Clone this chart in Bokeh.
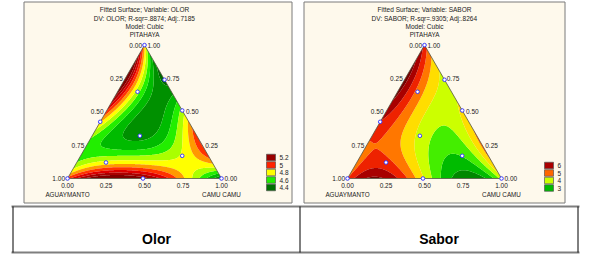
import numpy as np
from bokeh.plotting import figure
from bokeh.models import Range1d
from bokeh.core.properties import value
from bokeh.embed import file_html
from bokeh.resources import INLINE

# ---------------- data ----------------
# mixture design points (fractions): aguaymanto, camu camu, pitahaya
design_agu = [0.0, 0.0, 0.0, 0.575, 0.22, 0.37, 0.69, 0.17, 0.51, 1.0, 0.0]
design_camu = [0.0, 0.26, 0.49, 0.0, 0.13, 0.31, 0.19, 0.66, 0.49, 0.0, 1.0]
design_pit = [1.0, 0.74, 0.51, 0.425, 0.65, 0.32, 0.12, 0.17, 0.0, 0.0, 0.0]

read_agu6 = [0, 1, 0, 2, 1, 0, 3, 2, 1, 0, 4, 3, 2, 1, 0, 5, 4, 3, 2, 1, 0, 6, 5, 4, 3, 2, 1, 0]
read_camu6 = [0, 0, 1, 0, 1, 2, 0, 1, 2, 3, 0, 1, 2, 3, 4, 0, 1, 2, 3, 4, 5, 0, 1, 2, 3, 4, 5, 6]

olor_read = [4.9,
             5.35, 4.5,
             5.45, 4.6, 4.35,
             5.05, 4.6, 4.48, 4.7,
             4.75, 4.55, 4.5, 4.65, 5.15,
             4.65, 4.7, 4.6, 4.7, 4.85, 5.0,
             5.05, 5.4, 5.45, 5.4, 5.1, 4.7, 4.4]
sabor_read = [5.7,
              6.6, 4.8,
              6.8, 5.4, 4.3,
              6.3, 4.7, 4.3, 4.4,
              5.4, 5.0, 4.3, 3.8, 5.0,
              5.4, 5.9, 4.7, 3.7, 3.3, 5.6,
              5.6, 6.2, 6.1, 4.6, 2.9, 2.8, 4.0]

olor_levels = [4.3, 4.4, 4.5, 4.6, 4.7, 4.8, 4.9, 5.0, 5.1, 5.2, 5.3]
olor_fill = ["#004d00", "#006a00", "#009000", "#00bb00", "#22ee00", "#aaff00",
             "#ffff00", "#ff9900", "#ff3300", "#dd0000", "#aa0000", "#800000"]
sabor_levels = [2.5, 3.0, 3.5, 4.0, 4.5, 5.0, 5.5, 6.0, 6.5]
sabor_fill = ["#006000", "#008800", "#00bb00", "#44ee00", "#ccff00", "#ffdd00",
              "#ff7700", "#ee2200", "#a80000", "#780000"]

olor_legend = ["5.2", "5", "4.8", "4.6", "4.4"]
olor_legend_colors = ["#990000", "#ff2200", "#ffff00", "#22ee00", "#007000"]
sabor_legend = ["6", "5", "4", "3"]
sabor_legend_colors = ["#aa0000", "#ff6600", "#ccff00", "#00bb00"]

tick_labels = ["0.00", "0.25", "0.50", "0.75", "1.00"]
tick_fracs = [0.0, 0.25, 0.5, 0.75, 1.0]

olor_titles = ["Fitted Surface; Variable: OLOR", "DV: OLOR; R-sqr=.8874; Adj:.7185", "Model: Cubic"]
sabor_titles = ["Fitted Surface; Variable: SABOR", "DV: SABOR; R-sqr=.9305; Adj:.8264", "Model: Cubic"]
table_labels = ["Olor", "Sabor"]

# ---------------- helpers ----------------
FONT = value("Liberation Sans")
CREAM = "#fef9ec"
W, H = 154.0, 133.4


def design_matrix(a, b, c):
    a, b, c = np.asarray(a, float), np.asarray(b, float), np.asarray(c, float)
    return np.stack([a, b, c, a * b, a * c, b * c,
                     a * b * (a - b), a * c * (a - c), b * c * (b - c), a * b * c], axis=-1)


def fit_cubic(vals):
    a = np.array(read_agu6) / 6.0
    b = np.array(read_camu6) / 6.0
    c = 1.0 - a - b
    coef, *_ = np.linalg.lstsq(design_matrix(a, b, c), np.array(vals), rcond=None)
    return coef


def tern(a, b, c, x0, yb):
    a, b, c = np.asarray(a, float), np.asarray(b, float), np.asarray(c, float)
    return x0 + W * (b + c / 2.0), yb - H * c


def panel(p, left, right, x0, yb, vals, levels, fills, titles, leg_txt, leg_col, leg_x, leg_y0):
    p.quad(left=[left], right=[right], top=[1.5], bottom=[202.5],
           fill_color=CREAM, line_color="#7a7a7a", line_width=1)
    coef = fit_cubic(vals)
    xs = np.linspace(x0 - 2, x0 + W + 2, 330)
    ys = np.linspace(yb - H - 2, yb + 2, 290)
    X, Y = np.meshgrid(xs, ys)
    C = (yb - Y) / H
    B = (X - x0) / W - C / 2.0
    A = 1.0 - B - C
    Z = design_matrix(A, B, C) @ coef
    lv = [float(Z.min()) - 1.0] + list(levels) + [float(Z.max()) + 1.0]
    p.contour(x=xs, y=ys, z=Z, levels=lv, fill_color=fills)
    tx, ty = tern([1, 0, 0], [0, 1, 0], [0, 0, 1], x0, yb)
    bx = [x0 - 4, x0 + W + 4, x0 + W + 4, x0 - 4]
    by = [yb + 4, yb + 4, yb - H - 4, yb - H - 4]
    p.multi_polygons(xs=[[[bx, list(tx)]]], ys=[[[by, list(ty)]]],
                     fill_color=CREAM, line_color=None)
    p.line(x=list(tx) + [tx[0]], y=list(ty) + [ty[0]], line_color="#555544", line_width=0.8)

    tf = np.array(tick_fracs)
    zero = np.zeros_like(tf)
    lx, ly = tern(tf, zero, 1 - tf, x0, yb)
    p.text(x=lx - 2.5, y=ly, text=tick_labels, text_font=FONT, text_font_size="6.5px",
           text_align="right", text_baseline="middle", text_color="#222222")
    rx, ry = tern(zero, 1 - tf, tf, x0, yb)
    p.text(x=rx + 3, y=ry, text=tick_labels, text_font=FONT, text_font_size="6.5px",
           text_align="left", text_baseline="middle", text_color="#222222")
    bx2, by2 = tern(1 - tf, tf, zero, x0, yb)
    p.text(x=bx2, y=by2 + 6.5, text=tick_labels, text_font=FONT, text_font_size="6.5px",
           text_align="center", text_baseline="middle", text_color="#222222")
    p.text(x=[tx[0], tx[1], tx[2]], y=[yb + 15.5, yb + 15.5, yb - H - 10.5],
           text=["AGUAYMANTO", "CAMU CAMU", "PITAHAYA"], text_font=FONT, text_font_size="6.3px",
           text_align="center", text_baseline="middle", text_color="#222222")
    mid = tx[2]
    p.text(x=[mid] * 3, y=[9.0, 17.5, 26.0], text=titles, text_font=FONT,
           text_font_size="6.5px", text_align="center", text_baseline="middle", text_color="#222222")
    dx, dy = tern(design_agu, design_camu, design_pit, x0, yb)
    p.scatter(x=dx, y=dy, size=3.6, fill_color="white", line_color="#3a3aff", line_width=1)
    n = len(leg_txt)
    ly0 = np.array([leg_y0 + 7.5 * i for i in range(n)])
    p.rect(x=[leg_x + 4.5] * n, y=ly0, width=9, height=6.5, fill_color=leg_col,
           line_color="#555555", line_width=0.7)
    p.text(x=[leg_x + 13] * n, y=ly0, text=leg_txt, text_font=FONT, text_font_size="6.5px",
           text_align="left", text_baseline="middle", text_color="#222222")


p = figure(width=590, height=263, x_range=Range1d(0, 590), y_range=Range1d(263, 0),
           output_backend="svg", toolbar_location=None, x_axis_type=None, y_axis_type=None,
           min_border=0)
p.outline_line_color = None
p.grid.visible = False
p.background_fill_color = "white"
p.border_fill_color = "white"

panel(p, 23.5, 291.5, 67.0, 178.0, olor_read, olor_levels, olor_fill, olor_titles,
      olor_legend, olor_legend_colors, 266.0, 157.0)
panel(p, 303.5, 564.5, 347.0, 178.0, sabor_read, sabor_levels, sabor_fill, sabor_titles,
      sabor_legend, sabor_legend_colors, 544.0, 165.0)

p.segment(x0=[11, 11], y0=[206, 252], x1=[579, 579], y1=[206, 252], line_color="#7f7f7f", line_width=2.2)
p.segment(x0=[12.5, 299.5, 577.5], y0=[206, 206, 206], x1=[12.5, 299.5, 577.5], y1=[252, 252, 252],
          line_color="#000000", line_width=1)
p.text(x=[156, 438.5], y=[238, 238], text=table_labels, text_font=FONT, text_font_size="14px",
       text_font_style="bold", text_align="center", text_baseline="alphabetic", text_color="#000000")

open("out.html", "w").write(file_html(p, INLINE))
